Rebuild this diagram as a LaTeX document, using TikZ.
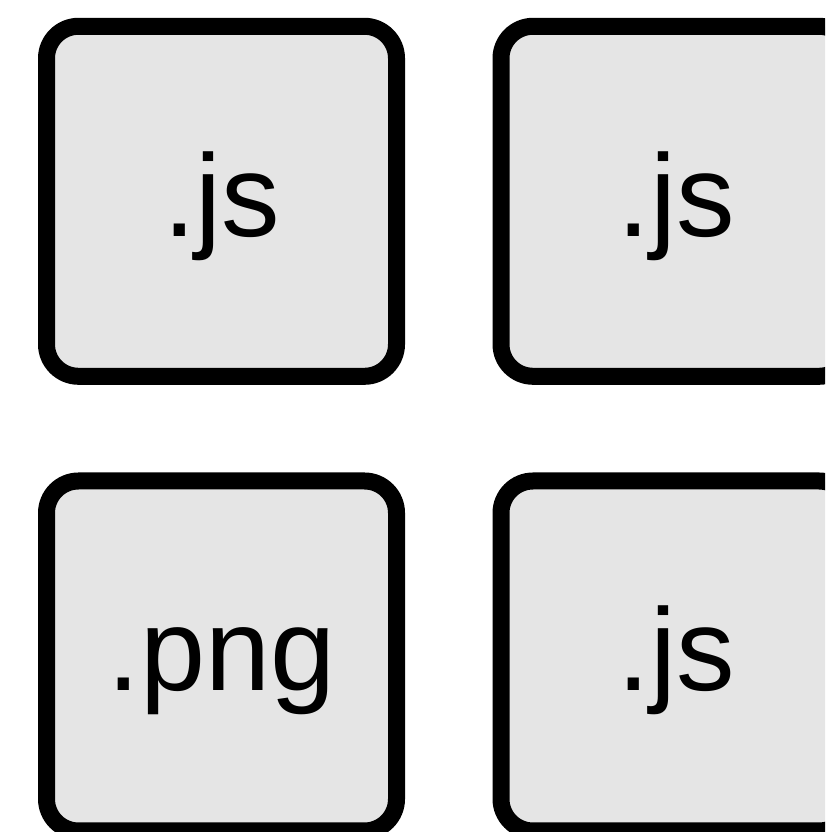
\documentclass[tikz,border=0pt]{standalone}
\usepackage{fontspec}
\setmainfont{Liberation Sans}
\definecolor{boxfill}{RGB}{229,229,229}
\tikzset{
  filebox/.style={draw=black, fill=boxfill, line width=17pt, rounded corners=32pt,
    minimum width=350pt, minimum height=350pt, inner sep=0pt,
    text height=94pt, text depth=24pt,
    font=\fontsize{117}{117}\selectfont}
}
\begin{document}
\begin{tikzpicture}[x=1pt,y=1pt]
\useasboundingbox (0,0) rectangle (825,832);
\clip (0,0) rectangle (825,832);
\node[filebox] (a) at (221.5,630.7) {.js};
\node[filebox] (b) at (676,630.7) {.js};
\node[filebox] (c) at (221.5,176) {.png};
\node[filebox] (d) at (676,176) {.js};
\end{tikzpicture}
\end{document}
